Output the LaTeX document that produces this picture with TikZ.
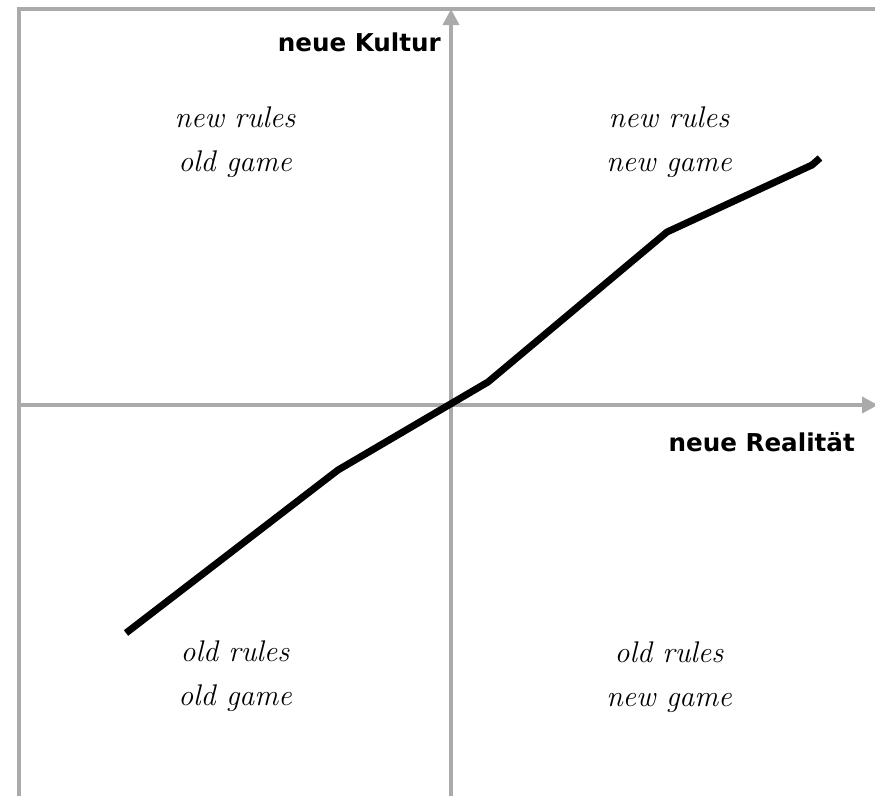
\documentclass[tikz,border=0pt]{standalone}
\usepackage{fontspec}
\newfontfamily\axisfont{DejaVu Sans}
\usepackage{tikz}
\usetikzlibrary{arrows.meta, positioning}
\definecolor{axisGray}{HTML}{AAAAAA}
\definecolor{curveBlack}{HTML}{000000}

\begin{document}
\begin{tikzpicture}[
    x=0.02cm, y=-0.02cm,
    frame/.style={draw=axisGray, line width=2pt},
    axis/.style={draw=axisGray, line width=2pt, -{Triangle[length=0.32cm, width=0.32cm]}},
    quadrant/.style={font=\fontsize{17}{25}\selectfont\itshape, align=center},
    axislabel/.style={font=\axisfont\bfseries\fontsize{14}{16}\selectfont, anchor=east},
    curve/.style={draw=curveBlack, line width=0.14cm},
]
\useasboundingbox (0,0) rectangle (875,796);

% Frame
\coordinate (frameBL) at (19,796);
\coordinate (frameTL) at (19,9);
\coordinate (frameTR) at (875,9);
\draw[frame] (frameBL) -- (frameTL) -- (frameTR);

% Axes
\coordinate (yStart) at (451,796);
\coordinate (yEnd) at (451,9);
\coordinate (xStart) at (19,405);
\coordinate (xEnd) at (878,405);
\draw[axis] (yStart) -- (yEnd);
\draw[axis] (xStart) -- (xEnd);

% Axis labels
\node[axislabel] (kultur) at (447,42) {neue Kultur};
\node[axislabel] (realitaet) at (861,442) {neue Realität};

% Quadrants
\node[quadrant] (nw) at (235,142) {new rules\\old game};
\node[quadrant] (ne) at (669,142) {new rules\\new game};
\node[quadrant] (sw) at (235,676) {old rules\\old game};
\node[quadrant] (se) at (669,677) {old rules\\new game};

% Curve
\coordinate (c1) at (126,633);
\coordinate (c2) at (338,470);
\coordinate (c3) at (488,382);
\coordinate (c4) at (667,232);
\coordinate (c5) at (812,165);
\coordinate (c6) at (820,158);
\draw[curve] (c1) -- (c2) -- (c3) -- (c4) -- (c5) -- (c6);

\end{tikzpicture}
\end{document}
